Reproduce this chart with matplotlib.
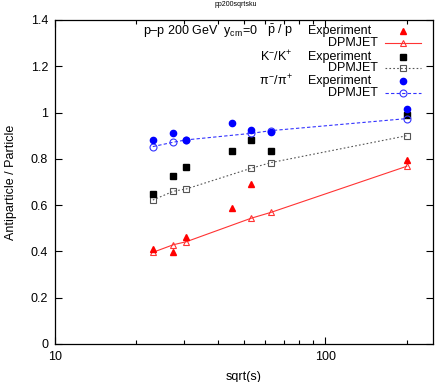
import numpy as np
import matplotlib
matplotlib.use("Agg")
import matplotlib.pyplot as plt
from matplotlib.ticker import FixedLocator, NullFormatter

plt.rcParams["font.family"] = ["Liberation Sans", "DejaVu Sans"]
plt.rcParams["mathtext.fontset"] = "custom"
plt.rcParams["mathtext.rm"] = "Liberation Sans"
plt.rcParams["mathtext.it"] = "Liberation Sans"

# energies (GeV)
x_exp = [23, 27.4, 30.6, 45, 53, 63, 200]
x_exp_p = [23, 27.4, 30.6, 45, 53, 200]
x_dpm = [23, 27.4, 30.6, 53, 63, 200]

# pbar/p
pbar_exp = [0.412, 0.399, 0.464, 0.586, 0.690, 0.795]
pbar_dpm = [0.396, 0.429, 0.442, 0.543, 0.569, 0.768]
# K-/K+
kaon_exp = [0.647, 0.726, 0.765, 0.833, 0.883, 0.833, 0.990]
kaon_dpm = [0.622, 0.660, 0.670, 0.759, 0.784, 0.900]
# pi-/pi+
pion_exp = [0.882, 0.913, 0.882, 0.954, 0.925, 0.915, 1.017]
pion_dpm = [0.853, 0.872, 0.882, 0.910, 0.922, 0.974]

fig = plt.figure(figsize=(4.36, 3.82), dpi=100)
ax = fig.add_axes([55 / 436, 38 / 382, 378 / 436, 324 / 382])

ax.plot(x_dpm, pbar_dpm, color="#ff3333", lw=0.8, ls="-", marker="^", mfc="none", mec="#ff3333", ms=5, mew=0.8)
ax.plot(x_exp_p, pbar_exp, ls="none", marker="^", color="#ff0000", ms=4.5)
ax.plot(x_dpm, kaon_dpm, color="#555555", lw=0.8, ls=(0, (1.5, 2)), marker="s", mfc="none", mec="#555555", ms=5, mew=0.8)
ax.plot(x_exp, kaon_exp, ls="none", marker="s", color="black", ms=4.5)
ax.plot(x_dpm, pion_dpm, color="#3333ff", lw=0.8, ls=(0, (3, 2)), marker="o", mfc="none", mec="#3333ff", ms=5, mew=0.8)
ax.plot(x_exp, pion_exp, ls="none", marker="o", color="#0000ff", ms=4.5)

ax.set_xscale("log")
ax.set_xlim(10, 250)
ax.set_ylim(0, 1.4)
ax.xaxis.set_major_locator(FixedLocator([10, 100]))
ax.set_xticklabels(["10", "100"])
ax.xaxis.set_minor_locator(FixedLocator([20, 30, 40, 50, 60, 70, 80, 90, 200]))
ax.xaxis.set_minor_formatter(NullFormatter())
ax.set_yticks([0, 0.2, 0.4, 0.6, 0.8, 1.0, 1.2, 1.4])
ax.set_yticklabels(["0", "0.2", "0.4", "0.6", "0.8", "1", "1.2", "1.4"])
ax.tick_params(which="both", direction="in", top=True, right=True, labelsize=9, width=0.8)
ax.tick_params(which="major", length=5, pad=5)
ax.tick_params(which="minor", length=3)
for s in ax.spines.values():
    s.set_linewidth(0.9)

ax.set_xlabel("sqrt(s)", fontsize=9, labelpad=6)
ax.set_ylabel("Antiparticle / Particle", fontsize=9, labelpad=10)
fig.text(236 / 436, 1 - 5 / 382, "pp200sqrtsku", fontsize=5, ha="center", va="center")

# key
def ax_x(px):
    return (px - 55) / 378


def ax_y(py):
    return (344 - py) / 324


fs = 9
rows = [31, 43, 57, 68, 81, 93]
ax.text(ax_x(143), ax_y(rows[0]), "p\u2013p 200 GeV  y$_{\\rm cm}$=0", transform=ax.transAxes, fontsize=fs, va="center")
labels = [r"$\bar{\rm p}$ / p", r"K$^{-}$/K$^{+}$", r"$\pi^{-}$/$\pi^{+}$"]
styles = [
    dict(exp=dict(marker="^", color="#ff0000", ms=4.5),
         dpm=dict(color="#ff3333", lw=0.8, ls="-", marker="^", mfc="none", mec="#ff3333", ms=5, mew=0.8)),
    dict(exp=dict(marker="s", color="black", ms=4.5),
         dpm=dict(color="#555555", lw=0.8, ls=(0, (1.5, 2)), marker="s", mfc="none", mec="#555555", ms=5, mew=0.8)),
    dict(exp=dict(marker="o", color="#0000ff", ms=4.5),
         dpm=dict(color="#3333ff", lw=0.8, ls=(0, (3, 2)), marker="o", mfc="none", mec="#3333ff", ms=5, mew=0.8)),
]
for i, (lab, st) in enumerate(zip(labels, styles)):
    y1 = ax_y(rows[2 * i])
    y2 = ax_y(rows[2 * i + 1])
    ax.text(ax_x(293), y1, lab, transform=ax.transAxes, fontsize=fs, va="center", ha="right")
    ax.text(ax_x(371), y1, "Experiment", transform=ax.transAxes, fontsize=fs, va="center", ha="right")
    ax.text(ax_x(378), y2, "DPMJET", transform=ax.transAxes, fontsize=fs, va="center", ha="right")
    ax.plot([ax_x(403)], [y1], transform=ax.transAxes, ls="none", clip_on=False, **st["exp"])
    ax.plot([ax_x(385), ax_x(421)], [y2, y2], transform=ax.transAxes, clip_on=False, markevery=[], **st["dpm"])
    ax.plot([ax_x(403)], [y2], transform=ax.transAxes, clip_on=False, **st["dpm"])

fig.savefig("out.png", dpi=100)
